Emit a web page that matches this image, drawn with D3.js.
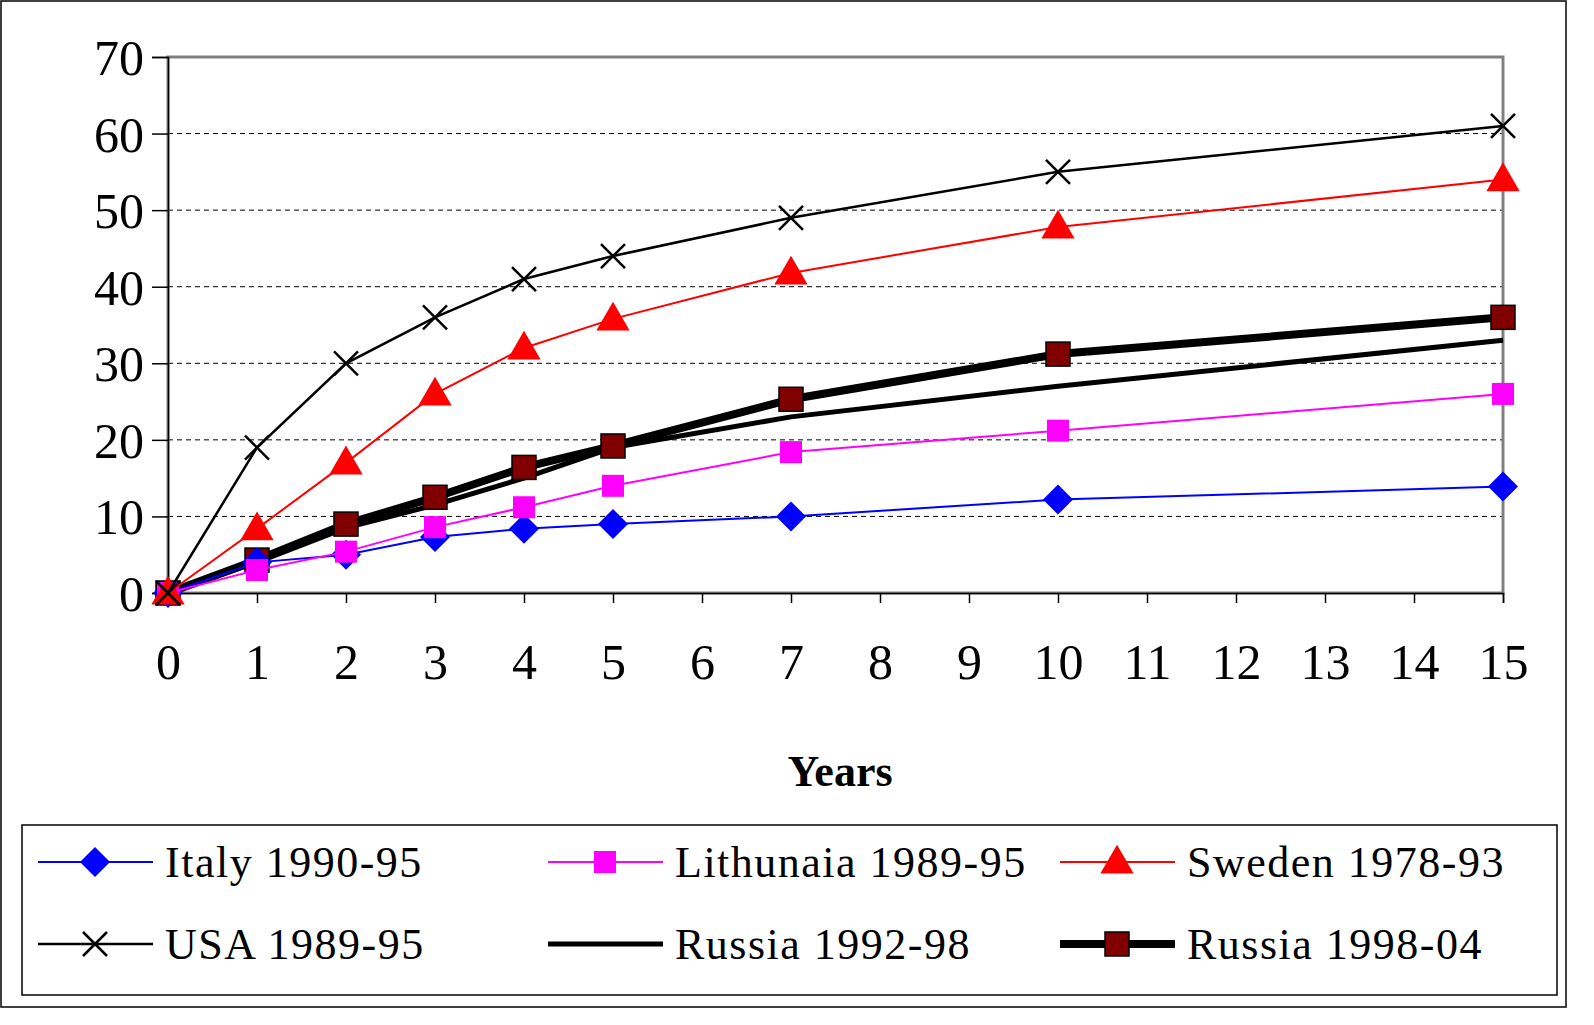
<!DOCTYPE html>
<html><head><meta charset="utf-8">
<script src="https://cdn.jsdelivr.net/npm/d3@7"></script>
<style>html,body{margin:0;background:#fff;overflow:hidden}svg{display:block}text{font-family:"Liberation Serif","DejaVu Serif",serif}</style>
</head><body><svg id="c" width="1594" height="1025"></svg>
<script>
const years = [0, 1, 2, 3, 4, 5, 7, 10, 15];
const italy = [0, 4, 5, 7.3, 8.4, 9, 10, 12.2, 13.9];
const lithuania = [0, 3, 5.4, 8.6, 11.2, 14, 18.4, 21.2, 26];
const sweden = [0, 8.4, 17, 26, 32, 35.8, 41.8, 47.8, 54];
const usa = [0, 19, 30, 36, 41, 44, 49, 55, 61];
const russia9298 = [0, 4, 8.5, 11.5, 15, 19, 23, 27, 33];
const russia9804 = [0, 4.3, 9, 12.5, 16.4, 19.2, 25.3, 31.2, 36];
const xTicks = d3.range(0, 16);
const yTicks = d3.range(0, 71, 10);

const series = [
  {name: 'Italy 1990-95', v: italy, color: '#0000ff', w: 2, sym: 'diamond'},
  {name: 'Lithunaia 1989-95', v: lithuania, color: '#ff00ff', w: 2, sym: 'square'},
  {name: 'Sweden 1978-93', v: sweden, color: '#ff0000', w: 2, sym: 'triangle'},
  {name: 'USA 1989-95', v: usa, color: '#000000', w: 2.5, sym: 'x'},
  {name: 'Russia 1992-98', v: russia9298, color: '#000000', w: 5, sym: null},
  {name: 'Russia 1998-04', v: russia9804, color: '#000000', w: 8, sym: 'bigsquare'},
];

const svg = d3.select('#c');
svg.append('rect').attr('x', 1).attr('y', 1).attr('width', 1565).attr('height', 1006)
  .attr('fill', 'none').attr('stroke', '#000').attr('stroke-width', 1.5);

const x = d3.scaleLinear().domain([0, 15]).range([168, 1503]);
const y = d3.scaleLinear().domain([0, 70]).range([593, 57]);

const grid = svg.append('g');
yTicks.filter(t => t > 0 && t < 70).forEach(t => {
  grid.append('line').attr('x1', 168).attr('x2', 1503).attr('y1', y(t)).attr('y2', y(t))
    .attr('stroke', '#000').attr('stroke-width', 1).attr('stroke-dasharray', '5,4');
});
svg.append('rect').attr('x', 168).attr('y', 57).attr('width', 1335).attr('height', 536)
  .attr('fill', 'none').attr('stroke', '#808080').attr('stroke-width', 3);

const yAxis = svg.append('g').attr('transform', 'translate(168,0)')
  .call(d3.axisLeft(y).tickValues(yTicks).tickSize(16).tickPadding(8));
yAxis.select('.domain').attr('stroke', '#000').attr('stroke-width', 1.5);
yAxis.selectAll('line').attr('stroke-width', 1.5);
yAxis.selectAll('text').attr('font-size', 50).attr('dy', '0.35em');

const xAxis = svg.append('g').attr('transform', 'translate(0,593)')
  .call(d3.axisBottom(x).tickValues(xTicks).tickSize(10).tickPadding(58));
xAxis.select('.domain').attr('stroke', '#000').attr('stroke-width', 1.5);
xAxis.selectAll('line').attr('stroke-width', 1.5);
xAxis.selectAll('text').attr('font-size', 50).attr('dy', '0.35em');

svg.append('text').attr('x', 840).attr('y', 786).attr('text-anchor', 'middle')
  .attr('font-size', 44).attr('font-weight', 'bold').text('Years');

function marker(g, s, cx, cy) {
  if (s.sym === 'diamond') {
    g.append('path').attr('d', `M${cx},${cy - 15}L${cx + 15},${cy}L${cx},${cy + 15}L${cx - 15},${cy}Z`).attr('fill', s.color);
  } else if (s.sym === 'square') {
    g.append('rect').attr('x', cx - 11).attr('y', cy - 11).attr('width', 22).attr('height', 22).attr('fill', s.color);
  } else if (s.sym === 'triangle') {
    g.append('path').attr('d', d3.symbol(d3.symbolTriangle, 480)()).attr('transform', `translate(${cx},${cy + 2})`).attr('fill', s.color);
  } else if (s.sym === 'x') {
    g.append('path').attr('d', `M${cx - 12},${cy - 12}L${cx + 12},${cy + 12}M${cx - 12},${cy + 12}L${cx + 12},${cy - 12}`)
      .attr('stroke', '#000').attr('stroke-width', 2.5);
  } else if (s.sym === 'bigsquare') {
    g.append('rect').attr('x', cx - 12).attr('y', cy - 12).attr('width', 24).attr('height', 24)
      .attr('fill', '#800000').attr('stroke', '#000').attr('stroke-width', 1.5);
  }
}

const line = d3.line().x((d, i) => x(years[i])).y(d => y(d));
[4, 5, 0, 1, 2, 3].forEach(i => {
  const s = series[i];
  const g = svg.append('g');
  g.append('path').attr('d', line(s.v)).attr('fill', 'none').attr('stroke', s.color).attr('stroke-width', s.w);
  s.v.forEach((v, j) => marker(g, s, x(years[j]), y(v)));
});

// legend
svg.append('rect').attr('x', 22).attr('y', 825).attr('width', 1535).attr('height', 170)
  .attr('fill', 'none').attr('stroke', '#000').attr('stroke-width', 1.5);
const cols = [38, 548, 1060];
const rows = [862, 944];
series.forEach((s, i) => {
  const lx = cols[i % 3], ly = rows[Math.floor(i / 3)];
  const g = svg.append('g');
  g.append('line').attr('x1', lx).attr('x2', lx + 115).attr('y1', ly).attr('y2', ly)
    .attr('stroke', s.color).attr('stroke-width', s.w);
  marker(g, s, lx + 57, ly);
  g.append('text').attr('x', lx + 127).attr('y', ly).attr('dy', '0.35em')
    .attr('font-size', 44).attr('letter-spacing', 1.5).text(s.name);
});
</script></body></html>
